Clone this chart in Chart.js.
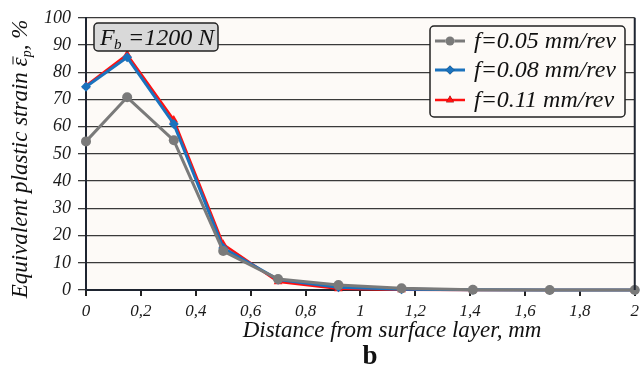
<!DOCTYPE html>
<html>
<head>
<meta charset="utf-8">
<script src="https://cdn.jsdelivr.net/npm/chart.js@4/dist/chart.umd.min.js"></script>
<style>
  html, body { margin: 0; padding: 0; background: #ffffff; }
  #wrap { width: 644px; height: 372px; }
</style>
</head>
<body>
<div id="wrap"><canvas id="strainChart" width="644" height="372"></canvas></div>
<script>
// depth from surface, mm
const depth = [0, 0.15, 0.32, 0.5, 0.7, 0.92, 1.15, 1.41, 1.69, 2.0];

// equivalent plastic strain, %
const strainF005 = [54.6, 70.8, 55.0, 14.3, 4.0, 1.8, 0.6, 0.1, 0, 0];
const strainF008 = [74.7, 85.5, 61.0, 15.4, 3.8, 1.0, 0.3, 0.05, 0, 0];
const strainF011 = [75.0, 86.5, 62.5, 16.8, 3.0, 0.5, 0.1, 0, 0, 0];

const seriesLabels = ['f=0.05 mm/rev', 'f=0.08 mm/rev', 'f=0.11 mm/rev'];
const seriesColors = ['#7a7a7a', '#1b72bd', '#ff1010'];
const seriesMarkers = ['circle', 'rectRot', 'triangle'];

const forceLabel = '=1200 N';
const xTitle = 'Distance from surface layer, mm';
const panelLetter = 'b';

const serif = '"Liberation Serif", "DejaVu Serif", serif';

function toPoints(ys) {
  return depth.map((d, i) => ({ x: d, y: ys[i] }));
}

const seriesData = [strainF005, strainF008, strainF011];

const datasets = seriesData.map((ys, i) => ({
  label: seriesLabels[i],
  data: toPoints(ys),
  borderColor: seriesColors[i],
  backgroundColor: seriesColors[i],
  borderWidth: i === 2 ? 2.5 : 3,
  pointStyle: seriesMarkers[i],
  pointRadius: 5,
  pointBorderWidth: 0,
  tension: 0,
  clip: false
}));

// plot background + right frame, annotation box, legend and axis titles
const decor = {
  id: 'decor',
  beforeDraw(chart) {
    const { ctx, chartArea: a } = chart;
    ctx.save();
    ctx.fillStyle = '#ffffff';
    ctx.fillRect(0, 0, chart.width, chart.height);
    ctx.fillStyle = '#fdfaf7';
    ctx.fillRect(a.left, a.top, a.right - a.left, a.bottom - a.top);
    ctx.restore();
  },
  afterDraw(chart) {
    const { ctx, chartArea: a } = chart;
    ctx.save();

    // right frame
    ctx.strokeStyle = '#1e2430';
    ctx.lineWidth = 2;
    ctx.beginPath();
    ctx.moveTo(a.right, a.top);
    ctx.lineTo(a.right, a.bottom);
    ctx.stroke();

    // F_b box
    ctx.fillStyle = '#d9d9d9';
    ctx.strokeStyle = '#222';
    ctx.lineWidth = 1.5;
    ctx.beginPath();
    ctx.roundRect(94, 23, 124, 28, 4);
    ctx.fill();
    ctx.stroke();
    ctx.fillStyle = '#111';
    ctx.textBaseline = 'alphabetic';
    ctx.textAlign = 'left';
    ctx.font = 'italic 24px ' + serif;
    ctx.fillText('F', 100, 45);
    ctx.font = 'italic 15px ' + serif;
    ctx.fillText('b', 114, 49);
    ctx.font = 'italic 24px ' + serif;
    ctx.fillText(forceLabel, 128, 45);

    // legend
    ctx.fillStyle = '#fdfaf7';
    ctx.strokeStyle = '#222';
    ctx.lineWidth = 1.5;
    ctx.beginPath();
    ctx.roundRect(430, 26, 195, 91, 4);
    ctx.fill();
    ctx.stroke();
    const rowY = [41, 70, 100];
    chart.data.datasets.forEach((ds, i) => {
      const y = rowY[i];
      ctx.strokeStyle = ds.borderColor;
      ctx.lineWidth = ds.borderWidth;
      ctx.beginPath();
      ctx.moveTo(435, y);
      ctx.lineTo(465, y);
      ctx.stroke();
      Chart.helpers.drawPoint(ctx, { pointStyle: ds.pointStyle, radius: 4.5, borderWidth: 0 }, 450, y);
      ctx.fillStyle = ds.borderColor;
      ctx.fill();
      ctx.fillStyle = '#111';
      ctx.font = 'italic 24px ' + serif;
      ctx.textBaseline = 'middle';
      ctx.fillText(ds.label, 474, y + 1);
    });

    // y title with macron and subscript
    ctx.translate(27, 159);
    ctx.rotate(-Math.PI / 2);
    ctx.textBaseline = 'alphabetic';
    ctx.fillStyle = '#111';
    const big = 'italic 23px ' + serif;
    const small = 'italic 14px ' + serif;
    const p1 = 'Equivalent plastic strain ';
    const eps = 'ε';
    const p3 = ', %';
    ctx.font = big;
    const w1 = ctx.measureText(p1).width;
    const we = ctx.measureText(eps).width;
    const w3 = ctx.measureText(p3).width;
    ctx.font = small;
    const wp = ctx.measureText('p').width;
    let x = -(w1 + we + wp + w3) / 2;
    ctx.font = big;
    ctx.fillText(p1, x, 0);
    x += w1;
    ctx.fillText(eps, x, 0);
    ctx.strokeStyle = '#111';
    ctx.lineWidth = 1;
    ctx.beginPath();
    ctx.moveTo(x + 2, -14);
    ctx.lineTo(x + we + 1, -14);
    ctx.stroke();
    x += we;
    ctx.font = small;
    ctx.fillText('p', x, 4);
    x += wp;
    ctx.font = big;
    ctx.fillText(p3, x, 0);
    ctx.setTransform(1, 0, 0, 1, 0, 0);

    // x title and panel letter
    ctx.textAlign = 'center';
    ctx.textBaseline = 'alphabetic';
    ctx.font = 'italic 23px ' + serif;
    ctx.fillText(xTitle, 392, 337);
    ctx.font = 'bold 27px ' + serif;
    ctx.fillText(panelLetter, 370, 364);

    ctx.restore();
  }
};

const fmtComma = v => {
  const r = Math.round(v * 10) / 10;
  return String(r).replace('.', ',');
};

new Chart(document.getElementById('strainChart'), {
  type: 'line',
  data: { datasets: datasets },
  options: {
    responsive: false,
    animation: false,
    layout: { padding: { top: 16, right: 9, left: 0, bottom: 0 } },
    plugins: {
      legend: { display: false },
      tooltip: { enabled: false }
    },
    scales: {
      x: {
        type: 'linear',
        min: 0,
        max: 2,
        afterFit: s => { s.height = 82; },
        ticks: {
          stepSize: 0.2,
          callback: fmtComma,
          color: '#1a1a1a',
          padding: 5,
          maxRotation: 0,
          font: { family: serif, style: 'italic', size: 17 }
        },
        grid: { drawOnChartArea: false, drawTicks: true, tickLength: 6, color: '#222', lineWidth: 2 },
        border: { color: '#1e2430', width: 2 }
      },
      y: {
        min: 0,
        max: 100,
        afterFit: s => { s.width = 86; },
        ticks: {
          stepSize: 10,
          color: '#1a1a1a',
          padding: 7,
          font: { family: serif, style: 'italic', size: 18 }
        },
        grid: { color: '#3a3a3a', lineWidth: 1.3, tickLength: 8 },
        border: { color: '#1e2430', width: 2 }
      }
    }
  },
  plugins: [decor]
});
</script>
</body>
</html>
